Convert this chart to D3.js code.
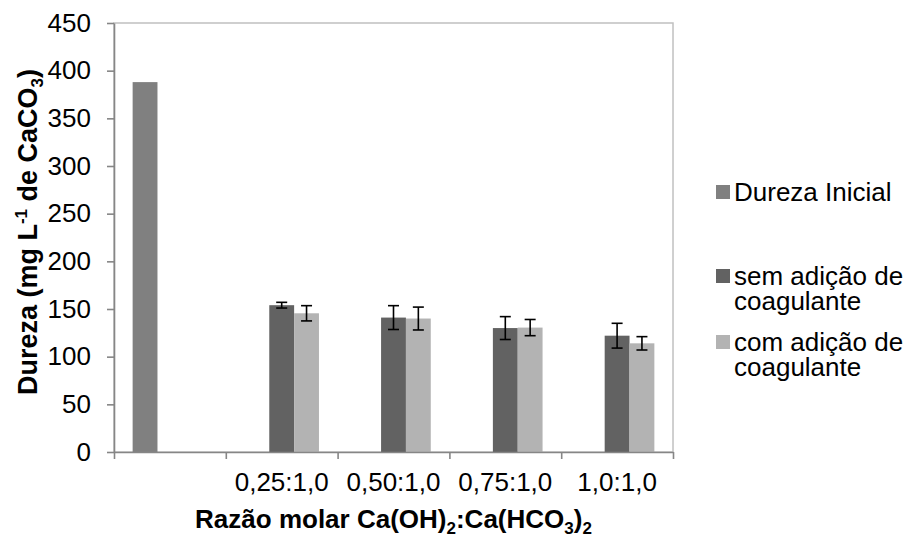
<!DOCTYPE html>
<html>
<head>
<meta charset="utf-8">
<script src="https://cdn.jsdelivr.net/npm/d3@7"></script>
<style>
  body { margin: 0; background: #fff; }
  text { font-family: "Liberation Sans", Arial, sans-serif; fill: #000; }
</style>
</head>
<body>
<div id="chart"></div>
<script>
const categories = ['', '0,25:1,0', '0,50:1,0', '0,75:1,0', '1,0:1,0']
const seriesNames = ['Dureza Inicial', 'sem adição de coagulante', 'com adição de coagulante']
const durezaInicial = [388, null, null, null, null]
const semCoagulante = [null, 154, 141, 130, 122]
const comCoagulante = [null, 145.5, 140, 130.5, 114]
const semErro = [null, 3, 12.5, 12, 13]
const comErro = [null, 8, 12, 8.5, 7]
const yTicks = [0, 50, 100, 150, 200, 250, 300, 350, 400, 450]
const colors = ['#808080', '#626262', '#b3b3b3']

const width = 909, height = 537
const margin = {top: 23, right: 236, bottom: 85, left: 114}
const plotW = width - margin.left - margin.right
const plotH = height - margin.top - margin.bottom

const svg = d3.select('#chart').append('svg')
  .attr('width', width)
  .attr('height', height)

const x0 = d3.scaleBand()
  .domain(categories.map((d, i) => i))
  .range([0, plotW])
const x1 = d3.scaleBand()
  .domain(seriesNames.map((d, i) => i))
  .range([0, x0.bandwidth()])
  .paddingOuter(0.75)
const y = d3.scaleLinear()
  .domain([0, 450])
  .range([plotH, 0])

const g = svg.append('g')
  .attr('transform', `translate(${margin.left}, ${margin.top})`)

// plot area border
g.append('rect')
  .attr('width', plotW)
  .attr('height', plotH)
  .attr('fill', 'none')
  .attr('stroke', '#c0c0c0')
  .attr('stroke-width', 1.5)

// bars
const seriesData = [durezaInicial, semCoagulante, comCoagulante]
const errData = [null, semErro, comErro]
seriesData.forEach((values, s) => {
  g.append('g').selectAll('rect')
    .data(values.map((v, i) => ({i, v})).filter(d => d.v != null))
    .enter().append('rect')
    .attr('x', d => x0(d.i) + x1(s))
    .attr('y', d => y(d.v))
    .attr('width', x1.bandwidth())
    .attr('height', d => plotH - y(d.v))
    .attr('fill', colors[s])
})

// error bars
errData.forEach((errs, s) => {
  if (!errs) return
  const pts = seriesData[s].map((v, i) => ({i, v, e: errs[i]})).filter(d => d.v != null)
  const eg = g.append('g').attr('stroke', '#000').attr('stroke-width', 1.6)
  pts.forEach(d => {
    const cx = x0(d.i) + x1(s) + x1.bandwidth() / 2
    eg.append('line').attr('x1', cx).attr('x2', cx)
      .attr('y1', y(d.v + d.e)).attr('y2', y(d.v - d.e))
    ;[d.v + d.e, d.v - d.e].forEach(val => {
      eg.append('line').attr('x1', cx - 5.5).attr('x2', cx + 5.5)
        .attr('y1', y(val)).attr('y2', y(val))
    })
  })
})

// y axis
const yAxis = d3.axisLeft(y)
  .tickValues(yTicks)
  .tickSize(7)
  .tickSizeOuter(0)
  .tickPadding(16)
const yg = g.append('g').call(yAxis)
yg.selectAll('text').style('font-size', '26px')
  .style('font-family', '"Liberation Sans", Arial, sans-serif')

// x axis: ticks at category edges, labels at centres
const xEdges = d3.scaleLinear().domain([0, categories.length]).range([0, plotW])
const xg = g.append('g')
  .attr('transform', `translate(0, ${plotH})`)
  .call(d3.axisBottom(xEdges).ticks(categories.length).tickFormat('').tickSize(7).tickSizeOuter(0))
const xl = g.append('g')
  .attr('transform', `translate(0, ${plotH})`)
  .call(d3.axisBottom(x0).tickFormat(i => categories[i]).tickSize(0).tickPadding(21))
xl.select('.domain').remove()
xl.selectAll('text').style('font-size', '26px')
  .style('font-family', '"Liberation Sans", Arial, sans-serif')

;[yg, xg].forEach(a => {
  a.selectAll('path, line').attr('stroke', '#868686').attr('stroke-width', 1.6)
})

// axis titles
const xt = svg.append('text')
  .attr('x', margin.left + plotW / 2)
  .attr('y', 528)
  .attr('text-anchor', 'middle')
  .style('font-size', '26px')
  .style('font-weight', 'bold')
xt.append('tspan').text('Razão molar Ca(OH)')
xt.append('tspan').text('2').attr('dy', 6).style('font-size', '17px')
xt.append('tspan').text(':Ca(HCO').attr('dy', -6)
xt.append('tspan').text('3').attr('dy', 6).style('font-size', '17px')
xt.append('tspan').text(')').attr('dy', -6)
xt.append('tspan').text('2').attr('dy', 6).style('font-size', '17px')

const yt = svg.append('text')
  .attr('transform', 'translate(37, 232) rotate(-90)')
  .attr('text-anchor', 'middle')
  .style('font-size', '27px')
  .style('font-weight', 'bold')
yt.append('tspan').text('Dureza (mg L')
yt.append('tspan').text('-1').attr('dy', -10).style('font-size', '17px')
yt.append('tspan').text(' de CaCO').attr('dy', 10)
yt.append('tspan').text('3').attr('dy', 6).style('font-size', '17px')
yt.append('tspan').text(')').attr('dy', -6)

// legend
const legendItems = [
  {lines: ['Dureza Inicial'], y: 201},
  {lines: ['sem adição de', 'coagulante'], y: 285},
  {lines: ['com adição de', 'coagulante'], y: 351}
]
const lg = svg.append('g')
legendItems.forEach((item, i) => {
  lg.append('rect')
    .attr('x', 716).attr('y', item.y - 16)
    .attr('width', 14).attr('height', 14)
    .attr('fill', colors[i])
  item.lines.forEach((line, k) => {
    lg.append('text')
      .attr('x', 734).attr('y', item.y + k * 25)
      .style('font-size', '26px')
      .text(line)
  })
})
</script>
</body>
</html>
